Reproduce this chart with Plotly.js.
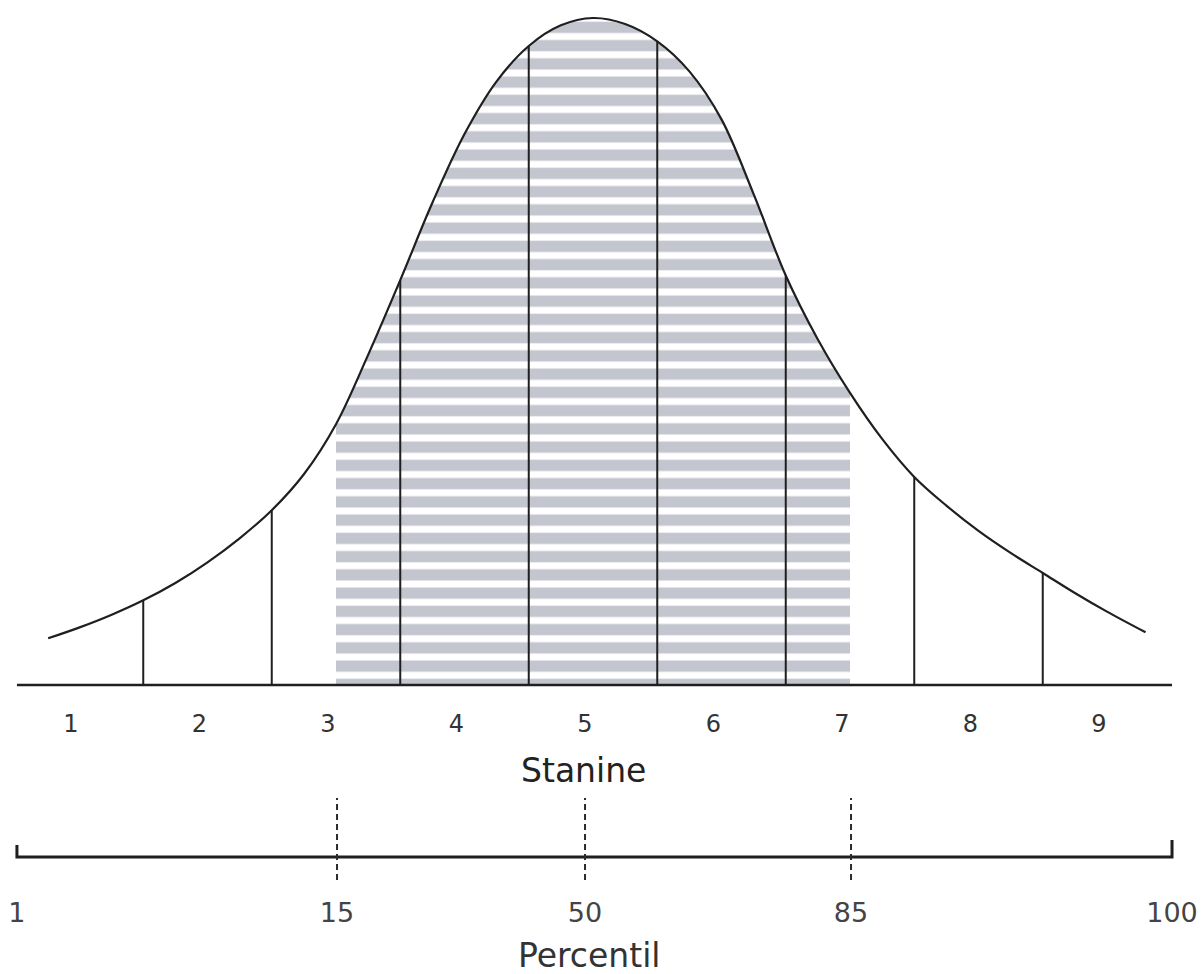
<!DOCTYPE html>
<html><head><meta charset="utf-8">
<script src="https://cdn.plot.ly/plotly-3.0.1.min.js"></script>
<style>html,body{margin:0;padding:0;background:#fff}#chart{width:1204px;height:974px}</style>
</head><body><div id="chart"></div>
<script>
// Normal curve (x in stanine units, y = relative height, peak = 100)
const curveX = [0.76, 1.0, 1.25, 1.5, 1.75, 2.0, 2.25, 2.5, 2.75, 3.0, 3.25, 3.5, 3.75, 4.0, 4.25, 4.5, 4.75, 5.0,
                5.25, 5.5, 5.75, 6.0, 6.25, 6.5, 6.75, 7.0, 7.25, 7.5, 7.75, 8.0, 8.25, 8.5, 8.75, 9.0, 9.3];
const curveY = [7.0, 8.6, 10.5, 12.7, 15.3, 18.4, 22.0, 26.2, 31.6, 39.1, 49.5, 60.7, 72.3, 82.6, 90.5, 95.8, 98.9, 100,
                99.1, 96.5, 92.0, 84.8, 73.6, 61.4, 51.8, 43.8, 36.9, 31.2, 26.9, 23.1, 19.8, 16.8, 13.8, 11.0, 7.9];

const stanines = [1, 2, 3, 4, 5, 6, 7, 8, 9];
const stanineLabels = ['1', '2', '3', '4', '5', '6', '7', '8', '9'];
const boundaries = [1.5, 2.5, 3.5, 4.5, 5.5, 6.5, 7.5, 8.5];
const shadeFrom = 3.0;
const shadeTo = 7.0;

// Percentile scale: position of each percentile on the stanine scale
const percentileLabels = ['1', '15', '50', '85', '100'];
const percentilePos = [0.517, 3.008, 4.938, 7.008, 9.506];
const dashedPercentiles = ['15', '50', '85'];

const INK = '#1f1f1f';
const FONT = 'DejaVu Sans';

// boundary lines: top = curve height at boundary
const bX = [], bY = [];
boundaries.forEach(b => {
  const top = curveY[curveX.indexOf(b)];
  bX.push(b, b, null); bY.push(0, top, null);
});

// shaded part
const shX = [], shY = [];
curveX.forEach((x, i) => { if (x >= shadeFrom && x <= shadeTo) { shX.push(x); shY.push(curveY[i]); } });

// percentile dashed marks
const dX = [], dY = [];
dashedPercentiles.forEach(p => {
  const x = percentilePos[percentileLabels.indexOf(p)];
  dX.push(x, x, null); dY.push(-23, 59, null);
});
const pFirst = percentilePos[0], pLast = percentilePos[percentilePos.length - 1];

const traces = [
  {x: shX, y: shY, mode: 'lines', fill: 'tozeroy', line: {width: 0, shape: 'spline', smoothing: 1},
   fillpattern: {shape: '-', size: 18.25, solidity: 0.62, fgcolor: '#c3c6cf', bgcolor: 'rgba(255,255,255,0)'},
   xaxis: 'x', yaxis: 'y', hoverinfo: 'skip'},
  {x: bX, y: bY, mode: 'lines', line: {color: INK, width: 2}, xaxis: 'x', yaxis: 'y', hoverinfo: 'skip'},
  {x: curveX, y: curveY, mode: 'lines', line: {color: INK, width: 2.2, shape: 'spline', smoothing: 1}, xaxis: 'x', yaxis: 'y', hoverinfo: 'skip'},
  {x: [pFirst, pLast], y: [0, 0], mode: 'lines', line: {color: INK, width: 2.6}, xaxis: 'x', yaxis: 'y', hoverinfo: 'skip'},
  {x: [pFirst, pFirst, pLast, pLast], y: [12, 0, 0, 17], mode: 'lines', line: {color: INK, width: 3}, xaxis: 'x2', yaxis: 'y2', hoverinfo: 'skip'},
  {x: dX, y: dY, mode: 'lines', line: {color: '#2a2a2a', width: 2, dash: '6px,4px'}, xaxis: 'x2', yaxis: 'y2', hoverinfo: 'skip'}
];

const layout = {
  width: 1204, height: 974,
  margin: {l: 0, r: 0, t: 0, b: 0},
  paper_bgcolor: '#fff', plot_bgcolor: 'rgba(0,0,0,0)',
  showlegend: false,
  font: {family: FONT, color: '#333'},
  xaxis: {domain: [0, 1], range: [0.3852, 9.7549], anchor: 'y', showgrid: false, zeroline: false, showline: false,
          tickmode: 'array', tickvals: stanines, ticktext: stanineLabels, ticks: '',
          tickfont: {family: FONT, size: 24, color: '#333'}, ticklabelstandoff: 7, ticklabelshift: -8},
  yaxis: {domain: [0.2813, 1], range: [-2.249, 102.7], visible: false},
  xaxis2: {domain: [0, 1], matches: 'x', anchor: 'y2', showgrid: false, zeroline: false, showline: false,
           tickmode: 'array', tickvals: percentilePos, ticktext: percentileLabels, ticks: '',
           tickfont: {family: FONT, size: 27, color: '#444'}, ticklabelstandoff: 4},
  yaxis2: {domain: [0.08624, 0.18891], range: [-33, 67], visible: false},
  annotations: [
    {text: 'Stanine', xref: 'paper', yref: 'paper', x: 583 / 1204, y: (974 - 770) / 974, xanchor: 'center', yanchor: 'middle',
     showarrow: false, font: {family: FONT, size: 33, color: '#222'}},
    {text: 'Percentil', xref: 'paper', yref: 'paper', x: 589 / 1204, y: (974 - 955) / 974, xanchor: 'center', yanchor: 'middle',
     showarrow: false, font: {family: FONT, size: 33, color: '#333'}}
  ]
};

Plotly.newPlot('chart', traces, layout, {staticPlot: true, displayModeBar: false});
</script>
</body></html>
